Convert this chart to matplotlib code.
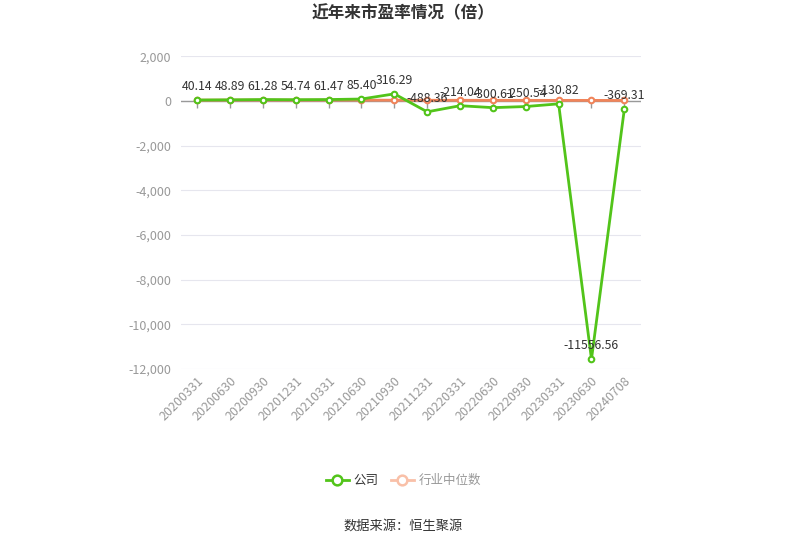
import matplotlib
matplotlib.use("Agg")
import matplotlib.pyplot as plt
import matplotlib.ticker as mtick
from matplotlib.lines import Line2D
import numpy as np

plt.rcParams['font.family'] = ['Noto Sans CJK SC', 'DejaVu Sans']

dates = ["20200331", "20200630", "20200930", "20201231", "20210331", "20210630",
         "20210930", "20211231", "20220331", "20220630", "20220930", "20230331",
         "20230630", "20240708"]
company = [40.14, 48.89, 61.28, 54.74, 61.47, 85.40, 316.29, -488.36, -214.04,
           -300.61, -250.54, -130.82, -11556.56, -369.31]
industry = [35.2, 38.6, 40.1, 36.8, 38.2, 35.5, 33.4, 30.2, 28.6, 27.1, 26.3,
            25.4, 24.1, 21.8]
yticks = [2000, 0, -2000, -4000, -6000, -8000, -10000, -12000]

green = "#52c41a"
orange = "#f0845a"

fig = plt.figure(figsize=(8.07, 5.46), dpi=100)
ax = fig.add_axes([0.224, 0.324, 0.570, 0.573])

x = np.arange(len(dates))
ax.set_xlim(-0.5, len(dates) - 0.5)
ax.set_ylim(-12000, 2000)
ax.set_yticks(yticks)
ax.yaxis.set_major_formatter(mtick.FuncFormatter(lambda v, p: f"{int(v):,}"))
ax.grid(axis='y', color='#e6e6ee', linewidth=0.8)
ax.set_axisbelow(True)
for s in ax.spines.values():
    s.set_visible(False)
ax.tick_params(axis='y', length=0, labelsize=9, labelcolor='#999999', pad=7)
ax.set_xticks(x)
ax.set_xticklabels(dates, rotation=45, ha='right', rotation_mode='anchor',
                   fontsize=9, color='#999999')
ax.tick_params(axis='x', length=0, pad=4)

# zero axis line with ticks
ax.axhline(0, color='#999999', linewidth=1, zorder=1)
ax.plot(x, np.zeros(len(x)), linestyle='none', marker=3, markersize=5,
        color='#999999', zorder=1)

ax.plot(x, industry, color=orange, linewidth=2, marker='o', markersize=4,
        markerfacecolor='white', markeredgewidth=1.5, zorder=3)
ax.plot(x, company, color=green, linewidth=2, marker='o', markersize=4,
        markerfacecolor='white', markeredgewidth=1.5, zorder=4)

for xi, v in zip(x, company):
    ax.annotate(f"{v:.2f}", (xi, v), xytext=(0, 5), textcoords='offset points',
                ha='center', va='bottom', fontsize=8.8, color='#333333', zorder=5)

fig.text(0.5, 0.975, "近年来市盈率情况（倍）", ha='center', va='center',
         fontsize=12, fontweight='bold', color='#333333')

handles = [
    Line2D([0], [0], color=green, linewidth=2, marker='o', markersize=7,
           markerfacecolor='white', markeredgewidth=1.8),
    Line2D([0], [0], color='#f9c0a8', linewidth=2, marker='o', markersize=7,
           markerfacecolor='white', markeredgewidth=1.8),
]
leg = fig.legend(handles, ["公司", "行业中位数"], loc='center', bbox_to_anchor=(0.5, 0.12),
                 ncol=2, frameon=False, fontsize=9, handlelength=1.8,
                 columnspacing=1.0, handletextpad=0.4)
leg.get_texts()[0].set_color('#333333')
leg.get_texts()[1].set_color('#999999')

fig.text(0.5, 0.036, "数据来源：恒生聚源", ha='center', va='center',
         fontsize=9.5, color='#333333')

fig.savefig("out.png", dpi=100)
